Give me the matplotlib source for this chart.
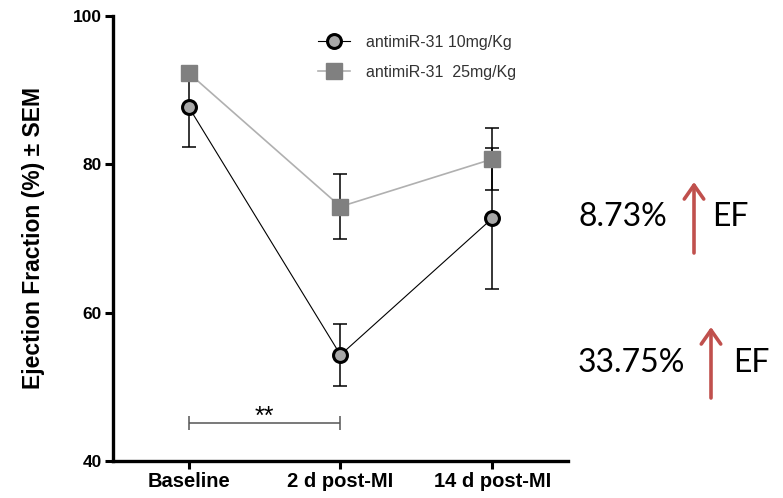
import numpy as np
import matplotlib
matplotlib.use("Agg")
from matplotlib import pyplot as plt

# time points and group values (mean EF %, SEM)
zeitpunkte = ['Baseline', '2 d post-MI', '14 d post-MI']
ef_10mg = [87.7, 54.3, 72.7]
sem_10mg = [5.4, 4.2, 9.5]
ef_25mg = [92.3, 74.3, 80.7]
sem_25mg = [0.5, 4.4, 4.2]
oznake = ['antimiR-31 10mg/Kg', 'antimiR-31  25mg/Kg']
procenti = ['8.73%', '33.75%']

plt.rcParams['font.family'] = ['Liberation Sans', 'DejaVu Sans']

fig = plt.figure(figsize=(7.83, 4.98), dpi=100)
ax = fig.add_axes([0.1443, 0.0743, 0.5811, 0.8936])
x = np.arange(len(zeitpunkte))

# error bars first, markers/lines on top
ax.errorbar(x, ef_25mg, yerr=sem_25mg, ecolor='black', elinewidth=1.1,
            capsize=5, capthick=1.1, fmt='none', zorder=2)
ax.errorbar(x, ef_10mg, yerr=sem_10mg, ecolor='black', elinewidth=1.1,
            capsize=5, capthick=1.1, fmt='none', zorder=2)
ax.plot(x, ef_25mg, color='#b0b0b0', lw=1.2, marker='s', ms=11,
        mfc='#808080', mec='#808080', label=oznake[1], zorder=4)
ax.plot(x, ef_10mg, color='black', lw=0.8, marker='o', ms=10,
        mfc='#a8a8a8', mec='black', mew=2.2, label=oznake[0], zorder=3)

# significance bracket
ax.errorbar([0.5], [45.1], xerr=[0.5], color='#555555', lw=1.1, capsize=5,
            capthick=1.1, fmt='none')
ax.text(0.5, 44.4, '**', ha='center', va='bottom', fontsize=18)

ax.set_xlim(-0.5, 2.5)
ax.set_ylim(40, 100)
ax.set_yticks([40, 60, 80, 100])
ax.set_xticks(x)
ax.set_xticklabels(zeitpunkte, fontsize=14.5, fontweight='bold')
for t in ax.get_yticklabels():
    t.set_fontsize(12.5)
    t.set_fontweight('bold')
ax.set_ylabel('Ejection Fraction (%) ± SEM', fontsize=16.5, fontweight='bold', labelpad=20)
ax.spines['top'].set_visible(False)
ax.spines['right'].set_visible(False)
ax.spines['left'].set_linewidth(2.4)
ax.spines['bottom'].set_linewidth(2.4)
ax.tick_params(width=2.2, length=6, pad=2)

handles, labels = ax.get_legend_handles_labels()
leg = ax.legend(handles[::-1], labels[::-1], loc='upper left', bbox_to_anchor=(0.42, 0.99),
                frameon=False, fontsize=11.5, handlelength=2.0, labelspacing=0.95,
                handletextpad=1.0)
for t in leg.get_texts():
    t.set_color('#333333')

# right-hand annotations
crvena = '#C0504D'
fig.text(578 / 783, 1 - 226 / 498, procenti[0], fontsize=23, family='Lato', va='baseline')
fig.text(712 / 783, 1 - 226 / 498, 'EF', fontsize=23, family='Lato', va='baseline')
fig.text(578 / 783, 1 - 372 / 498, procenti[1], fontsize=23, family='Lato', va='baseline')
fig.text(733 / 783, 1 - 372 / 498, 'EF', fontsize=23, family='Lato', va='baseline')
for xs, y0, y1 in [(694, 253, 182), (711, 398, 327)]:
    fig.add_artist(matplotlib.patches.FancyArrowPatch(
        (xs / 783, 1 - y0 / 498), (xs / 783, 1 - y1 / 498), transform=fig.transFigure,
        arrowstyle='->,head_length=10,head_width=7', color=crvena, lw=2.6,
        shrinkA=0, shrinkB=0))

fig.savefig('out.png', dpi=100)
